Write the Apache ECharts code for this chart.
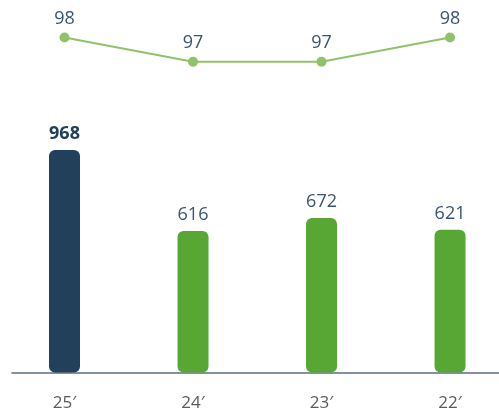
<!DOCTYPE html>
<html>
<head>
<meta charset="utf-8">
<script src="https://cdn.jsdelivr.net/npm/echarts@6/dist/echarts.min.js"></script>
<style>
  html, body { margin: 0; padding: 0; background: #ffffff; }
  #chart { width: 499px; height: 413px; }
</style>
</head>
<body>
<div id="chart"></div>
<script>
// Years, newest first
const categories = ['25′', '24′', '23′', '22′'];
// Bar totals per year
const barValues = [968, 616, 672, 621];
// Upper line series per year
const lineValues = [98, 97, 97, 98];

const FONT = '"Open Sans", sans-serif';
const NAVY = '#22405b';
const GREEN = '#58a735';
const LINE_GREEN = '#90c26b';
const LABEL = '#3b5470';

// Slot positions on a numeric x scale (one unit per year)
const X_MIN = -0.502;
const X_MAX = 3.381;

const chart = echarts.init(document.getElementById('chart'), null, { renderer: 'canvas' });

const hiddenX = (gridIndex) => ({
  type: 'value', gridIndex, min: X_MIN, max: X_MAX, show: false, splitLine: { show: false }
});

chart.setOption({
  backgroundColor: '#ffffff',
  animation: false,
  grid: [
    { left: 0, right: 0, top: 142.7, bottom: 40.5 },   // bars
    { left: 0, right: 0, top: 13.2, height: 72.9 },    // line
    { left: 12, right: 0, top: 142.7, bottom: 40.5 }   // baseline
  ],
  xAxis: [
    hiddenX(0),
    hiddenX(1),
    { type: 'category', gridIndex: 2, data: [''], axisLine: { show: true, lineStyle: { color: '#5b6c7d', width: 1.5 } }, axisTick: { show: false }, axisLabel: { show: false } }
  ],
  yAxis: [
    { type: 'value', gridIndex: 0, min: 0, max: 1000, show: false, splitLine: { show: false } },
    { type: 'value', gridIndex: 1, min: 96, max: 99, show: false, splitLine: { show: false } },
    { type: 'value', gridIndex: 2, min: 0, max: 1, show: false, splitLine: { show: false } }
  ],
  series: [
    {
      type: 'bar',
      xAxisIndex: 0,
      yAxisIndex: 0,
      barWidth: 31,
      data: barValues.map((v, i) => ({
        value: [i, v],
        itemStyle: { color: i === 0 ? NAVY : GREEN, borderRadius: 6 },
        label: i === 0 ? { fontWeight: 'bold', color: NAVY } : {}
      })),
      label: {
        show: true,
        position: 'top',
        distance: 7,
        fontFamily: FONT,
        fontSize: 18,
        color: LABEL,
        formatter: p => String(p.value[1])
      }
    },
    {
      // category names drawn under the baseline
      type: 'bar',
      xAxisIndex: 0,
      yAxisIndex: 0,
      barWidth: 31,
      barGap: '-100%',
      silent: true,
      data: categories.map((c, i) => [i, 0]),
      itemStyle: { color: 'transparent' },
      label: {
        show: true,
        position: 'bottom',
        distance: 22,
        fontFamily: FONT,
        fontSize: 17,
        color: '#555b61',
        formatter: p => categories[p.dataIndex]
      }
    },
    {
      type: 'line',
      xAxisIndex: 1,
      yAxisIndex: 1,
      data: lineValues.map((v, i) => [i, v]),
      symbol: 'circle',
      symbolSize: 10,
      lineStyle: { color: LINE_GREEN, width: 2 },
      itemStyle: { color: LINE_GREEN },
      label: {
        show: true,
        position: 'top',
        distance: 5,
        fontFamily: FONT,
        fontSize: 18,
        color: LABEL,
        formatter: p => String(p.value[1])
      }
    }
  ]
});
</script>
</body>
</html>
